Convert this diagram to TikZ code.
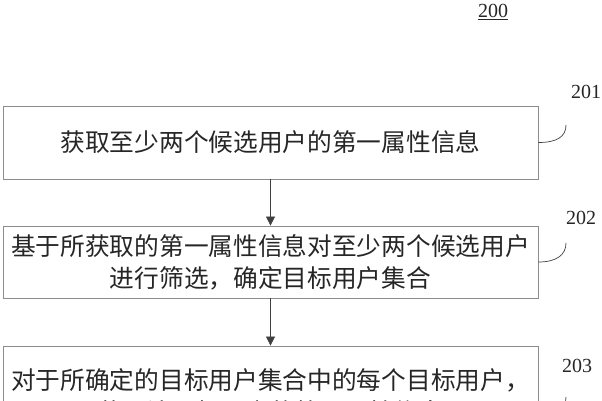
\documentclass[tikz,border=0pt]{standalone}
\usepackage{fontspec}
\setmainfont{Liberation Serif}
\newfontfamily\cjk{Noto Sans CJK SC}
\usetikzlibrary{arrows.meta}

\begin{document}
\begin{tikzpicture}[x=1pt, y=-1pt,
	stepbox/.style={draw=black!45, line width=0.8pt, minimum width=535pt, inner sep=0pt, font=\cjk\fontsize{24.7}{32}\selectfont, text=black!85, align=center},
	flow/.style={line width=0.6pt, color=black!75, -{Triangle[width=9pt,length=9pt]}},
	tag/.style={font=\fontsize{20}{20}\selectfont, text=black!85},
	lead/.style={line width=0.7pt, color=black!75}]
		%%%%% START %%%%%
		
		\clip (0, 0) rectangle (602, 400);
		
		\node[tag] (fig) at (493, 12) {\underline{200}};
		
		\node[stepbox, minimum height=73pt] (s201) at (270.5, 142.5) {获取至少两个候选用户的第一属性信息};
		\node[stepbox, minimum height=72pt] (s202) at (270.5, 262) {基于所获取的第一属性信息对至少两个候选用户\\进行筛选，确定目标用户集合};
		\node[stepbox, minimum height=100pt] (s203) at (270.5, 396) {对于所确定的目标用户集合中的每个目标用户，\\获取该目标用户的第二属性信息};
		
		\draw[flow] (s201) -- (s202);
		\draw[flow] (s202) -- (s203);
		
		\node[tag] (t201) at (586, 92) {201};
		\node[tag] (t202) at (581, 218) {202};
		\node[tag] (t203) at (577, 366) {203};
		
		\coordinate (e201) at (566, 125);
		\coordinate (e202) at (566, 243);
		\coordinate (e203) at (566, 397);
		\draw[lead] (s201.east) .. controls +(18, 0) and +(0, 12) .. (e201);
		\draw[lead] (s202.east) .. controls +(18, 0) and +(0, 12) .. (e202);
		\draw[lead] ([yshift=-19pt]s203.east) .. controls +(18, 0) and +(0, 12) .. (e203);
		
		%%%%% END %%%%%
\end{tikzpicture}
\end{document}
